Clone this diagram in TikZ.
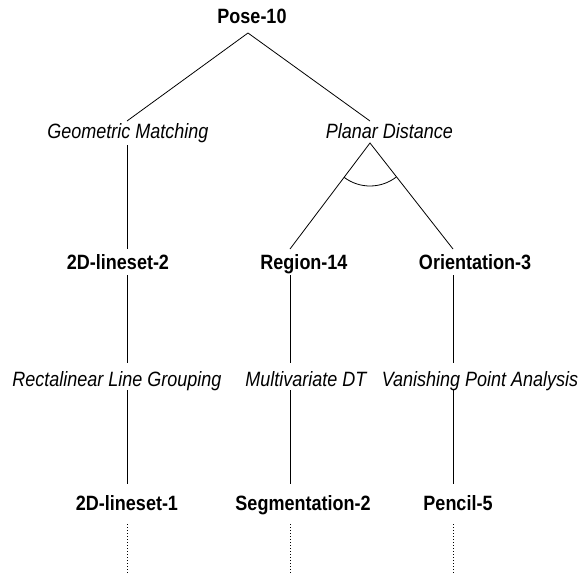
\documentclass[tikz,border=0pt]{standalone}
\usepackage{graphicx}
\usepackage{fontspec}
\setmainfont{Liberation Sans}
\newcommand\tallbox[1]{\scalebox{1}[1.15]{#1}}
\begin{document}
\begin{tikzpicture}[x=1pt,y=1pt,
  lbl/.style={inner sep=0pt,anchor=base,font=\fontsize{18}{21.6}\selectfont},
  strong/.style={lbl,font=\fontsize{18}{21.6}\selectfont\bfseries},
  method/.style={lbl,font=\fontsize{18}{21.6}\selectfont\itshape},
  edge/.style={line width=0.8pt},
  cont/.style={line width=0.8pt,dash pattern=on 1pt off 2pt}]
\useasboundingbox (0,0) rectangle (582,-573);
% text nodes
\node[strong] (pose) at (252,-23) {\tallbox{Pose-10}};
\node[method] (gm)   at (128,-138) {\tallbox{Geometric Matching}};
\node[method] (pd)   at (389.5,-138) {\tallbox{Planar Distance}};
\node[strong] (l2)   at (118,-269) {\tallbox{2D-lineset-2}};
\node[strong] (r14)  at (304,-269) {\tallbox{Region-14}};
\node[strong] (o3)   at (475,-269) {\tallbox{Orientation-3}};
\node[method] (rlg)  at (117,-386) {\tallbox{Rectalinear Line Grouping}};
\node[method] (mdt)  at (306,-386) {\tallbox{Multivariate DT}};
\node[method] (vpa)  at (480,-386) {\tallbox{Vanishing Point Analysis}};
\node[strong] (l1)   at (127,-510) {\tallbox{2D-lineset-1}};
\node[strong] (s2)   at (303,-510) {\tallbox{Segmentation-2}};
\node[strong] (p5)   at (458,-510) {\tallbox{Pencil-5}};
% connector end points
\coordinate (pose-b) at (248,-33);
\coordinate (gm-t) at (127,-121);
\coordinate (gm-b) at (127,-145);
\coordinate (pd-t) at (370,-121);
\coordinate (pd-b) at (370,-143);
\coordinate (l2-t) at (127,-249);
\coordinate (l2-b) at (127,-275);
\coordinate (r14-t) at (290,-249);
\coordinate (r14-b) at (290,-275);
\coordinate (o3-t) at (453,-249);
\coordinate (o3-b) at (453,-275);
\coordinate (rlg-t) at (127,-363);
\coordinate (rlg-b) at (127,-390);
\coordinate (mdt-t) at (290,-363);
\coordinate (mdt-b) at (290,-390);
\coordinate (vpa-t) at (453,-363);
\coordinate (vpa-b) at (453,-390);
\coordinate (l1-t) at (127,-484);
\coordinate (l1-b) at (127,-524);
\coordinate (s2-t) at (290,-484);
\coordinate (s2-b) at (290,-524);
\coordinate (p5-t) at (453,-484);
\coordinate (p5-b) at (453,-524);
\coordinate (l1-e) at (127,-573);
\coordinate (s2-e) at (290,-573);
\coordinate (p5-e) at (453,-573);
% connectors
\draw[edge] (gm-t) -- (pose-b) -- (pd-t);
\draw[edge] (gm-b) -- (l2-t);
\draw[edge] (r14-t) -- (pd-b) -- (o3-t);
\draw[edge] ([shift={(233:43pt)}]pd-b) arc[start angle=233,end angle=308,radius=43pt];
\draw[edge] (l2-b) -- (rlg-t);
\draw[edge] (r14-b) -- (mdt-t);
\draw[edge] (o3-b) -- (vpa-t);
\draw[edge] (rlg-b) -- (l1-t);
\draw[edge] (mdt-b) -- (s2-t);
\draw[edge] (vpa-b) -- (p5-t);
\draw[cont] (l1-b) -- (l1-e);
\draw[cont] (s2-b) -- (s2-e);
\draw[cont] (p5-b) -- (p5-e);
\end{tikzpicture}
\end{document}
